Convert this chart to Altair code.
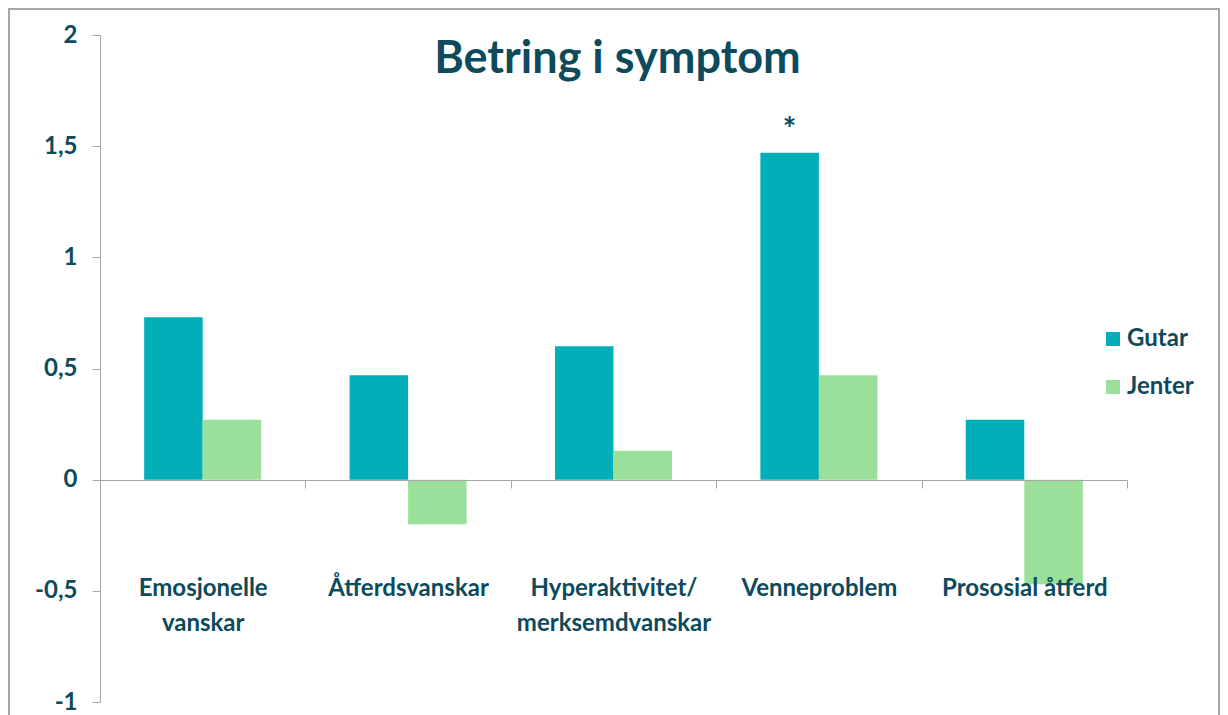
import altair as alt
import pandas as pd

categories = ["Emosjonelle|vanskar", "Åtferdsvanskar", "Hyperaktivitet/|merksemdvanskar",
              "Venneproblem", "Prososial åtferd"]
series = ["Gutar", "Jenter"]
gutar = [0.73, 0.47, 0.60, 1.47, 0.27]
jenter = [0.27, -0.20, 0.13, 0.47, -0.47]
y_ticks = [-1, -0.5, 0, 0.5, 1, 1.5, 2]

star_category = ["Venneproblem"]
star_series = ["Gutar"]
star_value = [1.47]
star_text = ["*"]

title_text = ["Betring i symptom"]

colors = ["#02AFB9", "#9ADF9A"]
text_color = "#0D4A5B"
axis_gray = "#A6A6A6"
FONT = "Lato"

rows = []
for c, g, j in zip(categories, gutar, jenter):
    rows.append({"kategori": c, "kjonn": "Gutar", "verdi": g})
    rows.append({"kategori": c, "kjonn": "Jenter", "verdi": j})
df = pd.DataFrame(rows)

star_df = pd.DataFrame({"kategori": star_category, "kjonn": star_series,
                        "verdi": star_value, "tekst": star_text})

W, H = 1027, 667

x_enc = alt.X("kategori:N", sort=categories, title=None,
              scale=alt.Scale(paddingInner=0, paddingOuter=0),
              axis=alt.Axis(offset=-222, labelAngle=0, tickBand="extent", zindex=1,
                            domainColor=axis_gray, tickColor=axis_gray, tickSize=8,
                            labelFont=FONT, labelFontSize=24, labelFontWeight="bold",
                            labelColor=text_color, labelBaseline="top",
                            labelPadding=88, labelLineHeight=35, labelLimit=400,
                            labelExpr="split(datum.label, '|')", grid=False))
y_enc = alt.Y("verdi:Q", title=None,
              scale=alt.Scale(domain=[-1, 2], nice=False, zero=True),
              axis=alt.Axis(values=y_ticks, grid=False, domainColor=axis_gray,
                            tickColor=axis_gray, tickSize=8,
                            labelFont=FONT, labelFontSize=24, labelFontWeight="bold",
                            labelColor=text_color, labelPadding=15,
                            labelExpr="replace(toString(datum.value), '.', ',')"))

xoff = alt.XOffset("kjonn:N", sort=series,
                   scale=alt.Scale(paddingInner=0, paddingOuter=0.755))

bars = alt.Chart(df).mark_bar().encode(
    x=x_enc,
    xOffset=xoff,
    y=y_enc,
    color=alt.Color("kjonn:N", sort=series, title=None,
                    scale=alt.Scale(domain=series, range=colors),
                    legend=alt.Legend(orient="none", legendX=1001, legendY=292,
                                      symbolType="square", symbolSize=196,
                                      symbolStrokeWidth=0, labelFont=FONT,
                                      labelFontSize=24, labelFontWeight="bold",
                                      labelColor=text_color, labelOffset=2,
                                      rowPadding=24, padding=0)),
)

stars = alt.Chart(star_df).mark_text(
    font=FONT, fontSize=32, fontWeight="bold", color=text_color,
    baseline="alphabetic", dy=-12
).encode(
    x=alt.X("kategori:N", sort=categories),
    xOffset=xoff,
    y=alt.Y("verdi:Q"),
    text="tekst:N",
)

title = alt.Chart(pd.DataFrame({"t": title_text})).mark_text(
    font=FONT, fontSize=45, fontWeight="bold", color=text_color,
    baseline="alphabetic", align="center"
).encode(x=alt.value(W / 2 + 4), y=alt.value(38), text="t:N")

frame = alt.Chart(pd.DataFrame({"f": [0]})).mark_rect(
    fill="transparent", stroke="#A3A7AB", strokeWidth=2, clip=False
).encode(
    x=alt.value(-91), x2=alt.value(1119), y=alt.value(-26), y2=alt.value(760)
)

chart = alt.layer(frame, bars, stars, title).properties(
    width=W, height=H,
    autosize=alt.AutoSizeParams(type="none"),
    padding={"left": 92, "top": 27, "right": 93, "bottom": 14},
).configure(background="white").configure_view(strokeWidth=0, stroke="transparent")

chart.save("out.html", embed_options={"renderer": "svg", "actions": False})
